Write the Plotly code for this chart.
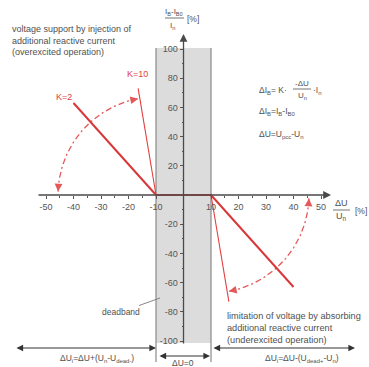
import numpy as np
import plotly.graph_objects as go

W, H = 369, 367
X_RANGE = [-66.73, 67.45]
Y_RANGE = [-117.8, 133.56]
PX_X = W / (X_RANGE[1] - X_RANGE[0])   # px per unit
PX_Y = H / (Y_RANGE[1] - Y_RANGE[0])

# ---- data ----
x_tick_vals = [-50, -40, -30, -20, -10, 10, 20, 30, 40, 50]
x_tick_text = ["-50", "-40", "-30", "-20", "-10", "10", "20", "30", "40", "50"]
x_minor = [-45, -35, -25, -15, 15, 25, 35, 45]
y_tick_vals = [100, 80, 60, 40, 20, -20, -40, -60, -80, -100]
y_tick_text = ["100", "80", "60", "40", "20", "-20", "-40", "-60", "-80", "-100"]
y_minor = [90, 70, 50, 30, 10, -10, -30, -50, -70, -90]

deadband = [-10, 10]
dead_y = [0, 0]
k2_left_x = [-40, -10]
k2_left_y = [63, 0]
k10_left_x = [-16.5, -10]
k10_left_y = [73, 0]
k2_right_x = [10, 40]
k2_right_y = [0, -63]
k10_right_x = [10, 16.5]
k10_right_y = [0, -73]

RED = "#e2403f"
TXT = "#505050"
FONT = "Liberation Sans, Arial, sans-serif"


def px2x(px):
    return X_RANGE[0] + px / PX_X


def px2y(py):
    return Y_RANGE[1] - py / PX_Y


def pxx(px):
    return px / W


def pyy(py):
    return 1 - py / H


fig = go.Figure()

# deadband box
fig.add_shape(type="rect", x0=deadband[0], x1=deadband[1], y0=px2y(343), y1=px2y(48),
              fillcolor="#dcdcdc", line=dict(width=0), layer="below")
for xv in deadband:
    fig.add_shape(type="line", x0=xv, x1=xv, y0=px2y(48), y1=px2y(362),
                  line=dict(color="#8a8a8a", width=1.2), layer="below")

# arcs (dash-dot), radius 98 px around each pivot
r_px = 98
rx, ry = r_px / PX_X, r_px / PX_Y
th_l = np.radians(np.linspace(178, 100.5, 80))
arc_l_x = deadband[0] + rx * np.cos(th_l)
arc_l_y = ry * np.sin(th_l)
th_r = np.radians(np.linspace(-2, -79.5, 80))
arc_r_x = deadband[1] + rx * np.cos(th_r)
arc_r_y = ry * np.sin(th_r)
for ax_, ay_ in [(arc_l_x, arc_l_y), (arc_r_x, arc_r_y)]:
    fig.add_trace(go.Scatter(x=ax_, y=ay_, mode="lines",
                             line=dict(color="#e5585a", width=1.3, dash="6px,3px,2px,3px"),
                             hoverinfo="skip"))

# characteristic lines
fig.add_trace(go.Scatter(x=deadband, y=dead_y, mode="lines", line=dict(color=RED, width=1.8)))
fig.add_trace(go.Scatter(x=k2_left_x, y=k2_left_y, mode="lines", line=dict(color="#d8383a", width=2)))
fig.add_trace(go.Scatter(x=k2_right_x, y=k2_right_y, mode="lines", line=dict(color="#d8383a", width=2)))
fig.add_trace(go.Scatter(x=k10_left_x, y=k10_left_y, mode="lines", line=dict(color=RED, width=1.1)))
fig.add_trace(go.Scatter(x=k10_right_x, y=k10_right_y, mode="lines", line=dict(color=RED, width=1.1)))

ann = []
AX = "#4a4a4a"
# axis lines with arrows
ann.append(dict(x=px2x(331), y=0, ax=px2x(37), ay=0, xref="x", yref="y", axref="x", ayref="y",
                text="", showarrow=True, arrowhead=2, arrowsize=1.2, arrowwidth=1.3, arrowcolor=AX))
ann.append(dict(x=0, y=px2y(34), ax=0, ay=px2y(345), xref="x", yref="y", axref="x", ayref="y",
                text="", showarrow=True, arrowhead=2, arrowsize=1.2, arrowwidth=1.3, arrowcolor=AX))

# arc arrowheads
for xs, ys in [(arc_l_x, arc_l_y), (arc_r_x, arc_r_y)]:
    for i0, i1 in [(-4, -1), (3, 0)]:
        ann.append(dict(x=xs[i1], y=ys[i1], ax=xs[i0], ay=ys[i0], xref="x", yref="y",
                        axref="x", ayref="y", text="", showarrow=True, arrowhead=2,
                        arrowsize=1.3, arrowwidth=1.2, arrowcolor="#e5585a"))

# bottom dimension arrows
def dim_arrow(px0, px1, py):
    return dict(x=px2x(px1), y=px2y(py), ax=px2x(px0), ay=px2y(py), xref="x", yref="y",
                axref="x", ayref="y", text="", showarrow=True, arrowhead=2, startarrowhead=2,
                arrowside="end+start", arrowsize=1.2, arrowwidth=1.1, arrowcolor="#333")

ann.append(dim_arrow(15, 156, 348))
ann.append(dim_arrow(158, 210, 356))
ann.append(dim_arrow(212, 355, 348))


def txt(px, py, s, size=8.5, color=TXT, xanchor="center", align="left"):
    return dict(x=pxx(px), y=pyy(py), xref="paper", yref="paper", text=s, showarrow=False,
                xanchor=xanchor, yanchor="middle", align=align,
                font=dict(size=size, color=color, family=FONT))


ann.append(txt(10, 41, "voltage support by injection of<br>additional reactive current<br>(overexcited operation)",
               size=9, xanchor="left"))
ann.append(txt(225, 328, "limitation of voltage by absorbing<br>additional reactive current<br>(underexcited operation)",
               size=9.2, xanchor="left"))
ann.append(txt(64, 97, "K=2", size=9, color=RED))
ann.append(txt(137, 74, "K=10", size=9, color=RED))

# deadband label
ann.append(dict(x=px2x(160), y=px2y(298), xref="x", yref="y", text="deadband", showarrow=True,
                arrowhead=0, arrowwidth=0.9, arrowcolor="#777", ax=-39, ay=14,
                font=dict(size=8.5, color=TXT, family=FONT)))

# formulas
ann.append(txt(257, 90, "ΔI<sub>B</sub>= K·", xanchor="left"))
ann.append(txt(302, 83, "-ΔU", size=8))
ann.append(txt(302, 96, "U<sub>n</sub>", size=8))
ann.append(txt(311, 90, "·I<sub>n</sub>", xanchor="left"))
ann.append(txt(257, 111, "ΔI<sub>B</sub>=I<sub>B</sub>-I<sub>B0</sub>", xanchor="left"))
ann.append(txt(257, 134, "ΔU=U<sub>pcc</sub>-U<sub>n</sub>", xanchor="left"))

# axis titles
ann.append(txt(174, 12, "I<sub>B</sub>-I<sub>B0</sub>", size=8))
ann.append(txt(172, 26, "I<sub>n</sub>", size=8))
ann.append(txt(185, 19, "[%]", size=8.5, xanchor="left"))
ann.append(txt(341, 203, "ΔU", size=9))
ann.append(txt(341, 217, "U<sub>n</sub>", size=9))
ann.append(txt(353, 211, "[%]", size=8.5, xanchor="left"))

# bottom labels
ann.append(txt(97, 358, "ΔU<sub>i</sub>=ΔU+(U<sub>n</sub>-U<sub>dead-</sub>)", size=8.5))
ann.append(txt(183, 363, "ΔU=0", size=8.5))
ann.append(txt(302, 358, "ΔU<sub>i</sub>=ΔU-(U<sub>dead+</sub>-U<sub>n</sub>)", size=8.5))

shapes_extra = [
    dict(type="line", xref="paper", yref="paper", x0=pxx(293), x1=pxx(311), y0=pyy(89), y1=pyy(89),
         line=dict(color=TXT, width=0.8)),
    dict(type="line", xref="paper", yref="paper", x0=pxx(165), x1=pxx(184), y0=pyy(18), y1=pyy(18),
         line=dict(color=TXT, width=0.8)),
    dict(type="line", xref="paper", yref="paper", x0=pxx(333), x1=pxx(350), y0=pyy(210), y1=pyy(210),
         line=dict(color=TXT, width=0.8)),
]
for s in shapes_extra:
    fig.add_shape(**s)

fig.update_layout(
    width=W, height=H, autosize=False,
    margin=dict(l=0, r=0, t=0, b=0, pad=0),
    paper_bgcolor="white", plot_bgcolor="white",
    showlegend=False,
    annotations=ann,
    font=dict(family=FONT, color=TXT),
    xaxis=dict(range=X_RANGE, anchor="free", position=1 - 195 / H, showgrid=False, zeroline=False,
               showline=False, tickmode="array", tickvals=x_tick_vals, ticktext=x_tick_text,
               ticks="outside", ticklen=3, tickwidth=1, tickcolor="#555",
               tickfont=dict(size=9, color="#555", family=FONT),
               minor=dict(tickvals=x_minor, ticks="outside", ticklen=2, tickcolor="#555"),
               fixedrange=True),
    yaxis=dict(range=Y_RANGE, anchor="free", position=183.5 / W, showgrid=False, zeroline=False,
               showline=False, tickmode="array", tickvals=y_tick_vals, ticktext=y_tick_text,
               ticks="outside", ticklen=4, tickwidth=1, tickcolor="#555",
               tickfont=dict(size=9, color="#555", family=FONT),
               minor=dict(tickvals=y_minor, ticks="outside", ticklen=2, tickcolor="#555"),
               fixedrange=True),
)

fig.write_html("out.html", config={"staticPlot": True},
               post_script="document.body.style.margin='0';document.body.style.overflow='hidden';")
